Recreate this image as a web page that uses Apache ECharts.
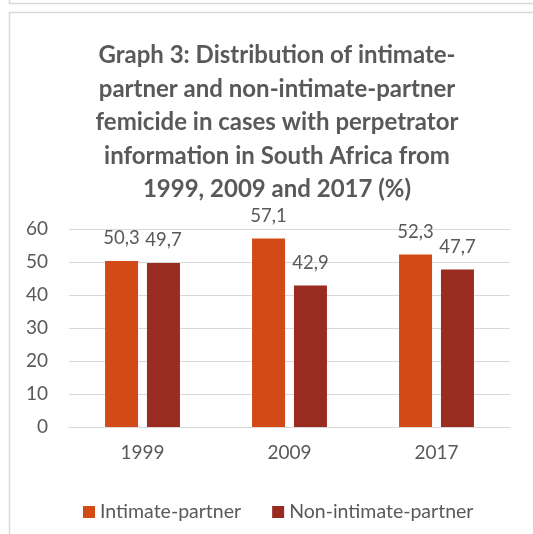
<!DOCTYPE html>
<html>
<head>
<meta charset="utf-8">
<script src="https://cdn.jsdelivr.net/npm/echarts@6/dist/echarts.min.js"></script>
<style>
html,body{margin:0;padding:0;background:#fff;}
#c{width:533px;height:534px;}
</style>
</head>
<body>
<div id="c"></div>
<script>
const categories = ['1999', '2009', '2017'];
const intimatePartner = [50.3, 57.1, 52.3];
const nonIntimatePartner = [49.7, 42.9, 47.7];
const seriesNames = ['Intimate-partner', 'Non-intimate-partner'];
const titleText = 'Graph 3: Distribution of intimate-\npartner and non-intimate-partner\nfemicide in cases with perpetrator\ninformation in South Africa from\n1999, 2009 and 2017 (%)';

const FONT = 'Lato';
const TXT = '#595959';
const chart = echarts.init(document.getElementById('c'), null, {renderer: 'canvas'});
const fmt = p => String(p.value).replace('.', ',');
chart.setOption({
  backgroundColor: '#fff',
  animation: false,
  graphic: [
    {type: 'rect', shape: {x: 9.5, y: -10, width: 600, height: 13.5}, style: {fill: 'none', stroke: '#d9d9d9', lineWidth: 1.5}},
    {type: 'rect', shape: {x: 9.5, y: 12.5, width: 600, height: 600}, style: {fill: 'none', stroke: '#d9d9d9', lineWidth: 1.5}}
  ],
  title: {
    text: titleText,
    left: 272, top: 34, textAlign: 'center',
    textStyle: {fontFamily: FONT, fontWeight: 'bold', fontSize: 24, color: TXT, lineHeight: 33.5}
  },
  legend: {
    data: seriesNames,
    top: 497, left: 78,
    itemWidth: 12, itemHeight: 12, itemGap: 31,
    icon: 'rect',
    textStyle: {fontFamily: FONT, fontSize: 19.5, color: TXT}
  },
  grid: {left: 69, right: 23, top: 229, bottom: 107, containLabel: false},
  xAxis: {
    type: 'category', data: categories,
    axisLine: {lineStyle: {color: '#d9d9d9', width: 1}},
    axisTick: {show: false},
    axisLabel: {fontFamily: FONT, fontSize: 19, color: TXT, margin: 16}
  },
  yAxis: {
    type: 'value', min: 0, max: 60, interval: 10,
    axisLine: {show: false}, axisTick: {show: false},
    splitLine: {lineStyle: {color: '#d9d9d9', width: 1}},
    axisLabel: {fontFamily: FONT, fontSize: 19, color: TXT, margin: 21}
  },
  series: [
    {name: seriesNames[0], type: 'bar', data: intimatePartner, barWidth: 33, barGap: '27%',
     itemStyle: {color: '#D34A17'},
     label: {show: true, position: 'top', distance: 13, formatter: fmt, fontFamily: FONT, fontSize: 18.5, color: TXT}},
    {name: seriesNames[1], type: 'bar', data: nonIntimatePartner, barWidth: 33,
     itemStyle: {color: '#9A2B20'},
     label: {show: true, position: 'top', distance: 13, formatter: fmt, fontFamily: FONT, fontSize: 18.5, color: TXT}}
  ]
});
</script>
</body>
</html>
